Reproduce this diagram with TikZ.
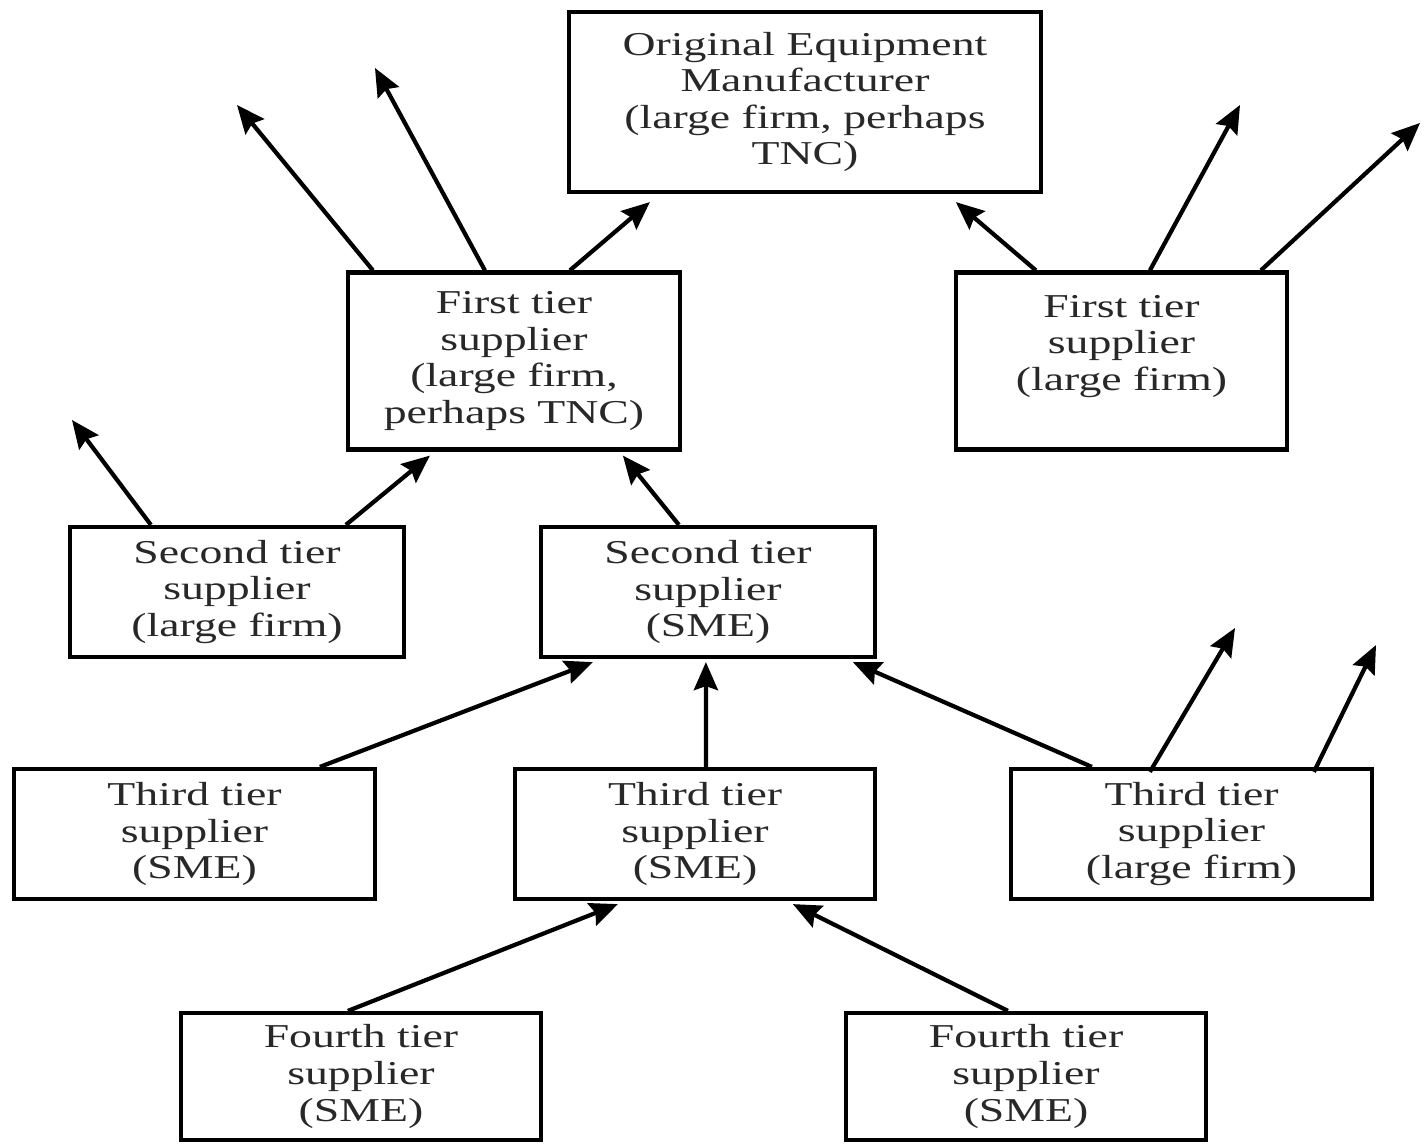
\documentclass[tikz,border=0pt]{standalone}
\usepackage{fontspec}
\setmainfont[FakeStretch=1.37]{Liberation Serif}
\usepackage{tikz}
\usetikzlibrary{positioning, arrows.meta, calc}
\usepackage{xcolor}
\definecolor{textgrey}{RGB}{40, 40, 40}

\begin{document}
\begin{tikzpicture}[
    box/.style={rectangle, draw=black, line width=1.2pt, fill=white, minimum width=3.6cm, minimum height=1.3cm, align=center, inner sep=0pt, text=textgrey, font=\fontsize{9.5}{10.4}\selectfont},
    arrow/.style={-{Stealth[length=0.28cm, width=0.24cm, inset=0.04cm]}, line width=1.2pt}
]
    \useasboundingbox (0,0) rectangle (14.24,11.43);

    \node[box, minimum width=4.72cm, minimum height=1.8cm] (oem) at (8.05,10.41) {Original Equipment\\Manufacturer\\(large firm, perhaps\\TNC)};
    \node[box, minimum width=3.32cm, minimum height=1.77cm] (first1) at (5.14,7.82) {First tier\\supplier\\(large firm,\\perhaps TNC)};
    \node[box, minimum width=3.31cm, minimum height=1.77cm] (first2) at (11.215,7.82) {First tier\\supplier\\(large firm)\\\mbox{}};
    \node[box, minimum width=3.34cm] (second1) at (2.37,5.51) {Second tier\\supplier\\(large firm)};
    \node[box, minimum width=3.34cm] (second2) at (7.08,5.51) {Second tier\\supplier\\(SME)};
    \node[box, minimum width=3.61cm] (third1) at (1.945,3.09) {Third tier\\supplier\\(SME)};
    \node[box] (third2) at (6.95,3.09) {Third tier\\supplier\\(SME)};
    \node[box, minimum width=3.61cm] (third3) at (11.915,3.09) {Third tier\\supplier\\(large firm)};
    \node[box, minimum height=1.27cm] (fourth1) at (3.61,0.665) {Fourth tier\\supplier\\(SME)};
    \node[box, minimum height=1.27cm] (fourth2) at (10.26,0.665) {Fourth tier\\supplier\\(SME)};

    \coordinate (out1) at (2.37,10.38);
    \coordinate (out2) at (3.75,10.75);
    \coordinate (out3) at (12.40,10.38);
    \coordinate (out4) at (14.20,10.20);
    \coordinate (out5) at (0.72,7.23);
    \coordinate (out6) at (12.35,5.15);
    \coordinate (out7) at (13.76,4.98);

    \draw[arrow] ([xshift=0.27cm]first1.north west) -- (out1);
    \draw[arrow] ([xshift=1.39cm]first1.north west) -- (out2);
    \draw[arrow] ([xshift=2.24cm]first1.north west) -- ([xshift=0.83cm, yshift=-0.08cm]oem.south west);
    \draw[arrow] ([xshift=0.82cm]first2.north west) -- ([xshift=3.89cm, yshift=-0.08cm]oem.south west);
    \draw[arrow] ([xshift=1.96cm]first2.north west) -- (out3);
    \draw[arrow] ([xshift=3.07cm]first2.north west) -- (out4);

    \draw[arrow] ([xshift=0.83cm]second1.north west) -- (out5);
    \draw[arrow] ([xshift=2.78cm]second1.north west) -- ([xshift=0.84cm, yshift=-0.04cm]first1.south west);
    \draw[arrow] ([xshift=1.40cm]second2.north west) -- ([xshift=2.77cm, yshift=-0.04cm]first1.south west);

    \draw[arrow] ([xshift=3.08cm]third1.north west) -- ([xshift=0.54cm, yshift=-0.03cm]second2.south west);
    \draw[arrow] ([xshift=1.93cm]third2.north west) -- ([xshift=1.67cm, yshift=-0.03cm]second2.south west);
    \draw[arrow] ([xshift=0.83cm]third3.north west) -- ([xshift=3.14cm, yshift=-0.03cm]second2.south west);
    \draw[arrow] ([xshift=1.41cm, yshift=-0.05cm]third3.north west) -- (out6);
    \draw[arrow] ([xshift=3.05cm, yshift=-0.05cm]third3.north west) -- (out7);

    \draw[arrow] ([xshift=1.69cm]fourth1.north west) -- ([xshift=1.05cm, yshift=-0.03cm]third2.south west);
    \draw[arrow] ([xshift=1.64cm]fourth2.north west) -- ([xshift=2.80cm, yshift=-0.03cm]third2.south west);
\end{tikzpicture}
\end{document}
